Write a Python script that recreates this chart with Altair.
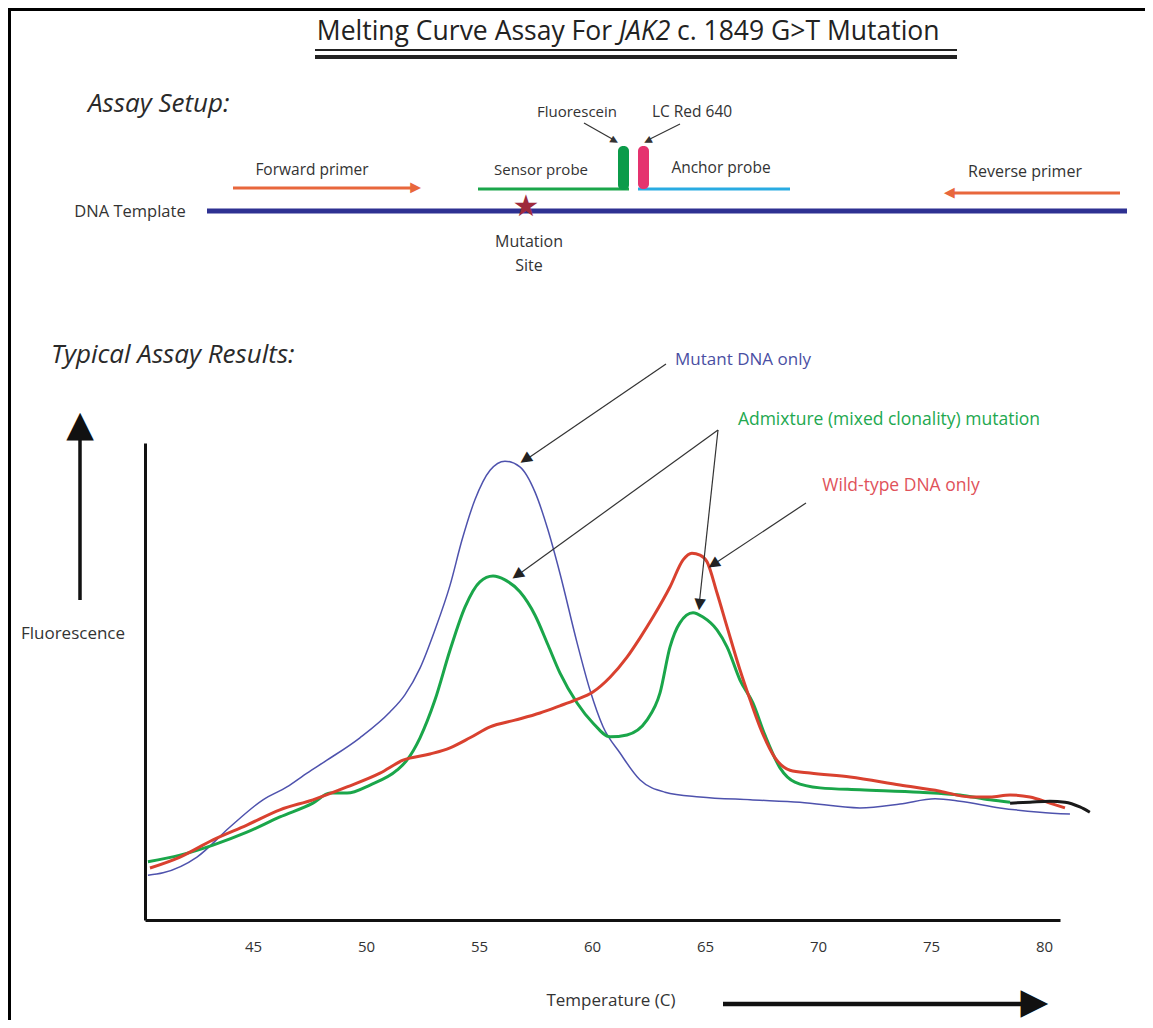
import math
import altair as alt
import pandas as pd

# ---------------- curve data (temperature in C, fluorescence in arbitrary units) ----------------
mutant_temp = [40.35, 41.02, 42.52, 43.98, 45.44, 46.50, 47.39, 48.27, 49.73, 51.06, 51.72, 52.39, 53.05,
               53.72, 54.25, 54.82, 55.49, 56.15, 56.81, 57.48, 58.05, 58.58, 59.34, 59.91, 60.49, 61.24,
               62.12, 63.23, 64.78, 67.00, 69.20, 71.86, 73.63, 75.18, 76.28, 78.05, 79.82, 81.15]
mutant_fluor = [9.4, 9.9, 13.2, 19.5, 25.2, 27.9, 30.8, 33.5, 38.2, 43.6, 47.2, 52.8, 60.8,
                70.2, 79.7, 88.1, 94.3, 96.2, 95.0, 89.7, 81.8, 72.7, 58.1, 48.2, 40.5, 35.0,
                29.4, 26.8, 25.8, 25.2, 24.7, 23.5, 24.3, 25.4, 24.9, 23.5, 22.6, 22.2]

admix_temp = [40.35, 41.77, 43.23, 44.73, 46.19, 47.65, 48.41, 49.16, 50.18, 51.37, 51.81, 52.39, 53.05,
              53.72, 54.38, 55.04, 55.62, 56.15, 56.81, 57.48, 58.05, 58.58, 59.34, 60.04, 60.80, 61.55,
              62.43, 63.01, 63.45, 63.89, 64.47, 64.91, 65.53, 65.98, 66.55, 67.12, 67.65, 68.32, 68.98,
              70.09, 71.86, 74.51, 76.28, 77.61, 78.50]
admix_fluor = [12.2, 13.6, 15.7, 18.4, 21.6, 24.5, 26.6, 26.6, 28.3, 31.4, 33.5, 38.2, 46.1,
               56.6, 65.6, 70.9, 72.1, 71.3, 68.8, 63.9, 57.7, 51.8, 45.5, 41.3, 38.4, 38.8,
               41.9, 47.6, 57.2, 62.3, 64.4, 63.5, 60.8, 57.2, 50.3, 45.5, 38.8, 31.9, 28.9,
               27.7, 27.3, 26.8, 26.2, 25.2, 24.7]

wild_temp = [40.44, 41.77, 43.23, 44.73, 46.19, 47.65, 49.16, 50.62, 51.64, 52.83, 53.72, 54.60, 55.49,
             56.59, 57.70, 58.58, 59.25, 60.04, 60.80, 61.55, 62.12, 62.70, 63.45, 64.03, 64.42, 64.78,
             65.09, 65.53, 65.98, 66.55, 67.00, 67.43, 68.10, 68.76, 69.65, 71.42, 73.63, 75.40, 76.73,
             77.61, 78.50, 79.38, 80.26, 80.93]
wild_fluor = [10.9, 13.2, 16.8, 19.9, 23.1, 25.2, 27.9, 30.8, 33.5, 34.8, 36.1, 38.2, 40.5,
              41.9, 43.4, 44.9, 46.1, 47.8, 50.9, 55.1, 59.1, 63.5, 69.8, 75.5, 76.9, 76.5,
              75.1, 68.6, 61.4, 52.4, 46.1, 40.5, 34.0, 31.4, 30.8, 30.0, 28.3, 27.0, 25.8,
              25.8, 26.2, 25.8, 24.5, 23.5]

tail_temp = [78.50, 79.38, 80.26, 80.93, 81.59, 82.03]
tail_fluor = [24.5, 24.7, 24.9, 24.7, 23.7, 22.6]

temp_ticks = [45, 50, 55, 60, 65, 70, 75, 80]

# ---------------- text content ----------------
title_parts = ["Melting Curve Assay For", "JAK2", "c. 1849 G>T Mutation"]
section_titles = ["Assay Setup:", "Typical Assay Results:"]
setup_labels = ["DNA Template", "Forward primer", "Sensor probe", "Fluorescein", "LC Red 640",
                "Anchor probe", "Reverse primer", "Mutation", "Site"]
axis_labels = ["Fluorescence", "Temperature (C)"]
curve_labels = ["Mutant DNA only", "Admixture (mixed clonality) mutation", "Wild-type DNA only"]

# ---------------- layout (page pixels) ----------------
W_PAGE, H_PAGE = 1153, 1028
ORIG_X, ORIG_Y = 145, 443          # page position of the curve plot area
PLOT_W, PLOT_H = 915, 477
T_MIN, T_MAX = 40.22, 80.71
F_MIN, F_MAX = 0, 100
FONT = "Open Sans"
INK = "#333333"


def tx(X):  # page x -> temperature units (for annotation placement)
    return T_MIN + (X - ORIG_X) * (T_MAX - T_MIN) / PLOT_W


def fy(Y):  # page y -> fluorescence units
    return F_MIN + (ORIG_Y + PLOT_H - Y) * (F_MAX - F_MIN) / PLOT_H


xs = alt.Scale(domain=[T_MIN, T_MAX], nice=False, zero=False)
ys = alt.Scale(domain=[F_MIN, F_MAX], nice=False, zero=False)
x_axis = alt.Axis(values=temp_ticks, format="d", labelFont=FONT, labelFontSize=15, labelColor=INK,
                  orient="bottom", ticks=False, labelPadding=19, domainColor="#111111",
                  domainWidth=3, grid=False, title=None)
y_axis = alt.Axis(orient="left", labels=False, ticks=False, domainColor="#111111",
                  domainWidth=3, grid=False, title=None)


def X(f="x"):
    return alt.X(f + ":Q", scale=xs, axis=x_axis)


def Y(f="y"):
    return alt.Y(f + ":Q", scale=ys, axis=y_axis)


# line segments (page px): x, y, x2, y2, color, width
segments = [
    (8, 9.5, 1153, 9.5, "#000000", 3),
    (9.5, 8, 9.5, 1028, "#000000", 3),
    (315, 50, 957, 50, "#222222", 2),
    (315, 57, 957, 57, "#222222", 4),
    (207, 211, 1127, 211, "#2e3192", 5),
    (233, 188, 412, 188, "#e8673c", 3),
    (1120, 193, 953, 193, "#e8673c", 3),
    (478, 189, 629, 189, "#1aa64a", 3),
    (638, 189, 790, 189, "#29abe2", 3),
    (584, 123, 614, 140, INK, 1.2),
    (680, 124, 648, 140, INK, 1.2),
    (666, 364, 524, 461, INK, 1.2),
    (718, 430, 515, 577, INK, 1.2),
    (718, 430, 699, 606, INK, 1.2),
    (806, 503, 711, 566, INK, 1.2),
    (80, 600, 80, 425, "#111111", 3.5),
    (723, 1004, 1030, 1004, "#111111", 4.5),
]
seg_df = pd.DataFrame([{"x": tx(a), "y": fy(b), "x2": tx(c), "y2": fy(d), "c": col, "w": w}
                       for a, b, c, d, col, w in segments])

# arrow heads (page px): tip x, tip y, from x, from y, color, glyph font size
heads = [
    (421, 188, 233, 188, "#e8673c", 14),
    (944, 193, 1120, 193, "#e8673c", 14),
    (618, 143, 584, 123, INK, 10),
    (644, 143, 680, 124, INK, 10),
    (520, 463, 666, 364, "#222222", 15),
    (512, 579, 718, 430, "#222222", 15),
    (699, 611, 718, 430, "#222222", 15),
    (708, 568, 806, 503, "#222222", 15),
    (80, 412, 80, 600, "#111111", 36),
    (1049, 1004, 723, 1004, "#111111", 36),
]
head_rows = []
for a, b, c, d, col, fs in heads:
    L = math.hypot(a - c, b - d)
    ux, uy = (a - c) / L, (b - d) / L
    half = 0.36 * fs  # half the glyph length
    cx, cy = a - ux * half, b - uy * half  # glyph centre
    head_rows.append({"t": "\u25B2", "x": tx(cx), "y": fy(cy), "c": col, "s": fs,
                      "a": math.degrees(math.atan2(ux, -uy)) % 360})

blocks = pd.DataFrame([
    {"x": tx(618), "x2": tx(629), "y": fy(146), "y2": fy(190), "c": "#0b9b4a"},
    {"x": tx(638), "x2": tx(649), "y": fy(146), "y2": fy(189), "c": "#e5336f"},
])

label_pos = {
    "DNA Template": (130, 212, 16.5, INK),
    "Forward primer": (312, 170, 15.5, INK),
    "Sensor probe": (541, 170, 15, INK),
    "Fluorescein": (577, 112, 15, INK),
    "LC Red 640": (692, 112, 15.5, INK),
    "Anchor probe": (721, 168, 15.5, INK),
    "Reverse primer": (1025, 172, 16, INK),
    "Mutation": (529, 242, 16, INK),
    "Site": (529, 266, 16, INK),
    "Fluorescence": (73, 634, 17, INK),
    "Temperature (C)": (611, 1001, 17, INK),
    "Mutant DNA only": (743, 360, 17, "#4a4fa3"),
    "Admixture (mixed clonality) mutation": (889, 420, 17.5, "#22a84f"),
    "Wild-type DNA only": (901, 486, 17.5, "#e0525a"),
}
lab_rows = [{"t": t, "x": tx(label_pos[t][0]), "y": fy(label_pos[t][1]),
             "s": label_pos[t][2], "c": label_pos[t][3]}
            for t in setup_labels + axis_labels + curve_labels]


def text_layer(rows, **kw):
    df = pd.DataFrame(rows)
    return alt.Chart(df).mark_text(**kw).encode(x=X(), y=Y(), text="t:N")


label_layers = [text_layer([r], font=FONT, fontSize=r["s"], color=r["c"], align="center", baseline="middle")
                for r in lab_rows]

sections = text_layer([{"t": section_titles[0], "x": tx(88), "y": fy(104)},
                       {"t": section_titles[1], "x": tx(51), "y": fy(355)}],
                      font=FONT, fontStyle="italic", fontSize=26, color="#2a2a2a",
                      align="left", baseline="middle")

TS = 26.5
t1 = text_layer([{"t": title_parts[0], "x": tx(612), "y": fy(40)}], font=FONT, fontSize=TS,
                color="#222222", align="right", baseline="alphabetic")
t2 = text_layer([{"t": title_parts[1], "x": tx(619), "y": fy(40)}], font=FONT, fontSize=TS,
                fontStyle="italic", color="#222222", align="left", baseline="alphabetic")
t3 = text_layer([{"t": title_parts[2], "x": tx(677), "y": fy(40)}], font=FONT, fontSize=TS,
                color="#222222", align="left", baseline="alphabetic")

rules = alt.Chart(seg_df).mark_rule().encode(
    x=X(), y=Y(), x2="x2:Q", y2="y2:Q",
    color=alt.Color("c:N", scale=None), strokeWidth=alt.StrokeWidth("w:Q", scale=None))

rects = alt.Chart(blocks).mark_rect(cornerRadius=5).encode(
    x=X(), x2="x2:Q", y=Y(), y2="y2:Q", color=alt.Color("c:N", scale=None))

star = text_layer([{"t": "\u2605", "x": tx(526), "y": fy(207)}], font="DejaVu Sans", fontSize=30,
                  color="#9e2a3c", align="center", baseline="middle")

head_layers = [text_layer([{"t": r["t"], "x": r["x"], "y": r["y"]}], font="DejaVu Sans", fontSize=r["s"],
                          color=r["c"], align="center", baseline="middle", angle=r["a"])
               for r in head_rows]


def curve(temps, fl, color, width):
    df = pd.DataFrame({"x": temps, "y": fl})
    return alt.Chart(df).mark_line(color=color, strokeWidth=width, interpolate="monotone").encode(
        x=X(), y=Y())


chart = alt.layer(
    curve(mutant_temp, mutant_fluor, "#4e52ad", 1.5),
    curve(admix_temp, admix_fluor, "#1aa64a", 3),
    curve(wild_temp, wild_fluor, "#d9412f", 3),
    curve(tail_temp, tail_fluor, "#1a1a1a", 3),
    rules, rects, *label_layers, sections, t1, t2, t3, star, *head_layers,
).properties(
    width=PLOT_W, height=PLOT_H, autosize="none",
    padding={"left": ORIG_X - 8, "top": ORIG_Y - 8, "right": W_PAGE - 8 - ORIG_X - PLOT_W,
             "bottom": H_PAGE - 8 - ORIG_Y - PLOT_H},
    background="white",
).configure_view(stroke=None)

chart.save("out.html", embed_options={"renderer": "svg", "actions": False})
